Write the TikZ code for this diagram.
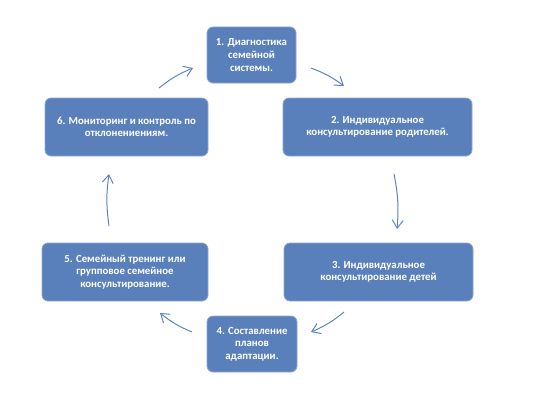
\documentclass[tikz,border=0pt]{standalone}
\usepackage{fontspec}
\setmainfont{Carlito}
\usetikzlibrary{arrows.meta}
\definecolor{boxblue}{HTML}{5A80BC}
\definecolor{arrblue}{HTML}{5E84C0}
\tikzset{
  stagebox/.style={draw=boxblue!70!white, line width=0.8pt, fill=boxblue, rounded corners=6pt,
    text=white, font=\bfseries\fontsize{10.8}{12.6}\selectfont, align=center, inner sep=0pt},
  cyclearrow/.style={draw=arrblue, line width=1pt, -{Straight Barb[length=8pt,width=11pt]}}
}
\begin{document}
\begin{tikzpicture}[x=1pt,y=-1pt]
\useasboundingbox (0,0) rectangle (538,404);
\node[stagebox, minimum width=89pt, minimum height=56pt] (b1) at (251.5,55) {1. Диагностика\\семейной\\системы.};
\node[stagebox, minimum width=189pt, minimum height=58pt] (b2) at (377.5,127) {2. Индивидуальное\\консультирование родителей.};
\node[stagebox, minimum width=189pt, minimum height=58pt] (b3) at (378.5,272) {3. Индивидуальное\\консультирование детей};
\node[stagebox, minimum width=90pt, minimum height=56pt] (b4) at (252,344) {4. Составление\\планов\\адаптации.};
\node[stagebox, minimum width=166pt, minimum height=58pt] (b5) at (125,272) {5. Семейный тренинг или\\групповое семейное\\консультирование.};
\node[stagebox, minimum width=163pt, minimum height=58pt] (b6) at (126.5,127) {6. Мониторинг и контроль по\\отклонениениям.};
\coordinate (a1s) at (311,68); \coordinate (a1e) at (344,86);
\coordinate (a2s) at (394,174); \coordinate (a2e) at (397,229);
\coordinate (a3s) at (344,312); \coordinate (a3e) at (311,332);
\coordinate (a4s) at (192,332); \coordinate (a4e) at (160,313);
\coordinate (a5s) at (109,226); \coordinate (a5e) at (109,174);
\coordinate (a6s) at (159,88); \coordinate (a6e) at (193,68);
\draw[cyclearrow] (a1s) to[bend left=8] (a1e);
\draw[cyclearrow] (a2s) to[bend left=8] (a2e);
\draw[cyclearrow] (a3s) to[bend left=8] (a3e);
\draw[cyclearrow] (a4s) to[bend left=8] (a4e);
\draw[cyclearrow] (a5s) to[bend left=8] (a5e);
\draw[cyclearrow] (a6s) to[bend left=8] (a6e);
\end{tikzpicture}
\end{document}
